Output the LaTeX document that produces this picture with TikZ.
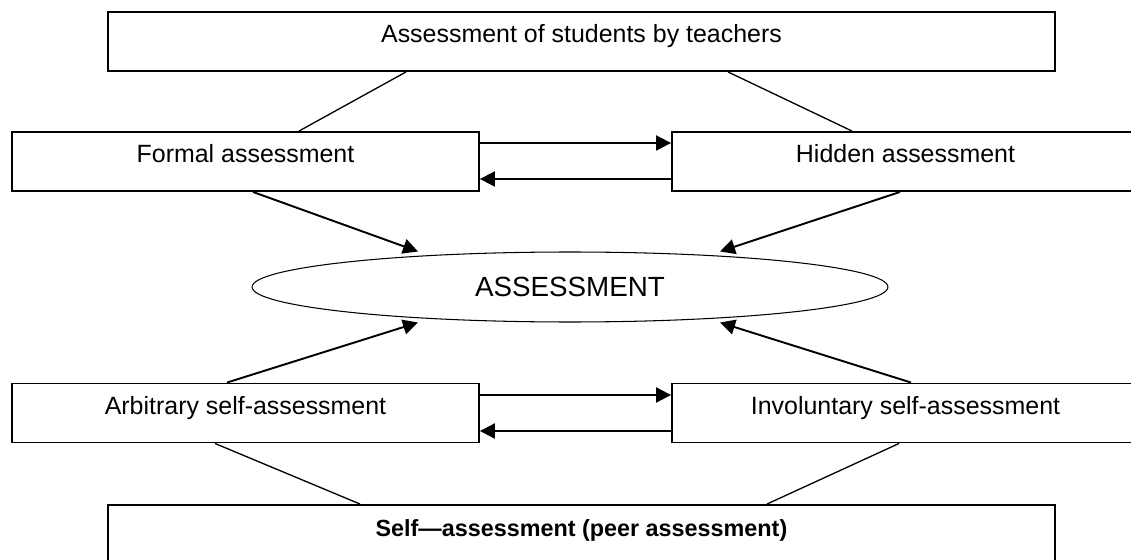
\documentclass[tikz,border=0pt]{standalone}
\usepackage{fontspec}
\setmainfont{Liberation Sans}
\usepackage{tikz}
\usetikzlibrary{arrows.meta,shapes.geometric}

\begin{document}
\begin{tikzpicture}[x=0.02cm, y=-0.02cm,
    box/.style={draw, line width=1.1pt, inner sep=0pt, text height=0.62cm, text depth=0.56cm,
        font=\fontsize{14.2}{17}\selectfont},
    wide/.style={box, minimum width=18.94cm},
    side/.style={box, minimum width=9.34cm},
    link/.style={line width=0.75pt},
    arr/.style={line width=1.1pt, -{Triangle[length=0.3cm, width=0.3cm]}}]
                \useasboundingbox (0,0) rectangle (1131,560);
                \node[wide] (teachers) at (581.5,41.5) {Assessment of students by teachers};
                \node[side] (formal) at (245.5,161.5) {Formal assessment};
                \node[side] (hidden) at (905.5,161.5) {Hidden assessment};
                \node[draw, ellipse, line width=0.6pt, inner sep=0pt, minimum width=12.72cm, minimum height=1.4cm,
                    font=\fontsize{15.8}{19}\selectfont] (assess) at (570,287) {ASSESSMENT};
                \node[side] (arbitrary) at (245.5,413) {Arbitrary self-assessment};
                \node[side] (involuntary) at (905.5,413) {Involuntary self-assessment};
                \node[wide, text depth=0.6cm, font=\fontsize{13.3}{16}\selectfont\bfseries] (selfpeer) at (581.5,535.5) {Self\textemdash assessment (peer assessment)};
                \draw[link] (teachers.south -| 406,0) -- (formal.north -| 299,0);
                \draw[link] (teachers.south -| 728,0) -- (hidden.north -| 852,0);
                \draw[arr] (formal.east |- 0,143) -- (hidden.west |- 0,143);
                \draw[arr] (hidden.west |- 0,179) -- (formal.east |- 0,179);
                \draw[arr] (formal.south -| 253,0) -- (assess.north -| 418,0);
                \draw[arr] (hidden.south -| 900,0) -- (assess.north -| 720,0);
                \draw[arr] (arbitrary.north -| 227,0) -- (assess.south -| 418,0);
                \draw[arr] (involuntary.north -| 911,0) -- (assess.south -| 720,0);
                \draw[arr] (arbitrary.east |- 0,395) -- (involuntary.west |- 0,395);
                \draw[arr] (involuntary.west |- 0,431) -- (arbitrary.east |- 0,431);
                \draw[link] (arbitrary.south -| 215,0) -- (selfpeer.north -| 360,0);
                \draw[link] (involuntary.south -| 899,0) -- (selfpeer.north -| 767,0);
            \end{tikzpicture}
\end{document}
